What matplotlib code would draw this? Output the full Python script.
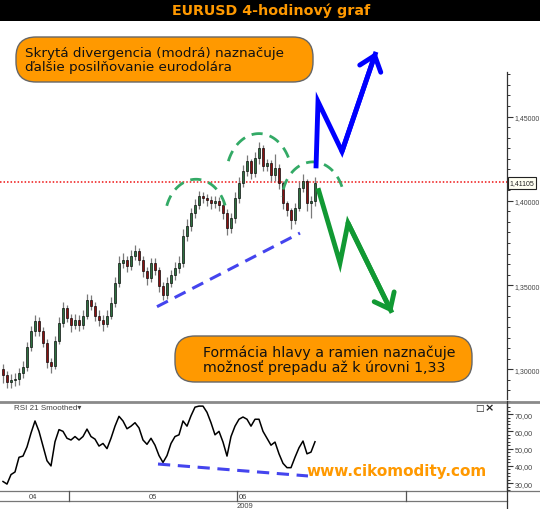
import matplotlib
matplotlib.use("Agg")
import matplotlib.pyplot as plt
from matplotlib.patches import Rectangle, FancyBboxPatch
import numpy as np

# ---------------- data ----------------
closes = [1.2964, 1.2923, 1.2935, 1.2941, 1.2976, 1.3012, 1.3130, 1.3230, 1.3289, 1.3230,
          1.3159, 1.3041, 1.3023, 1.3171, 1.3277, 1.3366, 1.3307, 1.3266, 1.3295, 1.3266,
          1.3319, 1.3413, 1.3378, 1.3319, 1.3295, 1.3271, 1.3319, 1.3395, 1.3514, 1.3632,
          1.3649, 1.3614, 1.3673, 1.3703, 1.3649, 1.3584, 1.3543, 1.3632, 1.3590, 1.3496,
          1.3443, 1.3514, 1.3561, 1.3602, 1.3632, 1.3791, 1.3850, 1.3927, 1.3974, 1.4027,
          1.4016, 1.4005, 1.3986, 1.3998, 1.3974, 1.3927, 1.3838, 1.3898, 1.4016, 1.4104,
          1.4175, 1.4234, 1.4163, 1.4252, 1.4311, 1.4205, 1.4222, 1.4151, 1.4193, 1.4104,
          1.3986, 1.3945, 1.3886, 1.3957, 1.4075, 1.4116, 1.3986, 1.3998, 1.4104]
first_open = 1.3000
highs = [1.303, 1.299, 1.297, 1.298, 1.301, 1.305, 1.316, 1.326, 1.332, 1.331,
         1.325, 1.318, 1.307, 1.320, 1.331, 1.340, 1.338, 1.333, 1.333, 1.332,
         1.335, 1.345, 1.344, 1.340, 1.335, 1.332, 1.335, 1.343, 1.355, 1.367,
         1.369, 1.367, 1.371, 1.374, 1.372, 1.367, 1.361, 1.366, 1.366, 1.361,
         1.352, 1.355, 1.359, 1.364, 1.367, 1.383, 1.389, 1.396, 1.401, 1.406,
         1.405, 1.404, 1.403, 1.403, 1.402, 1.400, 1.395, 1.393, 1.405, 1.414,
         1.421, 1.427, 1.425, 1.429, 1.435, 1.433, 1.425, 1.424, 1.428, 1.422,
         1.412, 1.400, 1.396, 1.399, 1.411, 1.416, 1.413, 1.403, 1.414]
lows = [1.292, 1.289, 1.289, 1.290, 1.291, 1.295, 1.299, 1.311, 1.320, 1.320,
        1.313, 1.301, 1.298, 1.300, 1.315, 1.325, 1.328, 1.322, 1.324, 1.323,
        1.324, 1.330, 1.335, 1.329, 1.326, 1.323, 1.325, 1.330, 1.337, 1.349,
        1.360, 1.358, 1.359, 1.365, 1.362, 1.355, 1.350, 1.352, 1.356, 1.346,
        1.341, 1.342, 1.349, 1.353, 1.357, 1.361, 1.376, 1.382, 1.390, 1.395,
        1.399, 1.397, 1.395, 1.396, 1.394, 1.389, 1.380, 1.381, 1.387, 1.399,
        1.408, 1.415, 1.413, 1.414, 1.422, 1.418, 1.418, 1.412, 1.412, 1.407,
        1.395, 1.391, 1.383, 1.386, 1.394, 1.405, 1.394, 1.390, 1.397]
rsi = [31, 29.5, 35, 36.5, 45, 45.7, 51, 59, 66, 60,
       51.5, 43, 40, 54, 61, 60, 56, 55, 57, 55,
       57, 61.3, 57, 55.5, 51.5, 53, 50, 56, 63, 68.7,
       66, 61.5, 63, 65, 62, 55, 52.5, 56, 52, 46,
       42, 46, 53, 57, 58, 66, 63, 69, 74, 74.6,
       74.6, 71, 65, 58, 60, 53.8, 45.7, 57, 63, 67,
       68.3, 67, 63, 67, 67, 60, 56, 52, 53.8, 47,
       41.5, 39, 39, 45, 50.5, 54.4, 47, 48, 54]
last_price = 1.41105
last_price_label = "1,41105"
price_ticks = [1.30, 1.35, 1.40, 1.45]
price_labels = ["1,30000", "1,35000", "1,40000", "1,45000"]
rsi_ticks = [30, 40, 50, 60, 70]
rsi_labels = ["30,00", "40,00", "50,00", "60,00", "70,00"]
month_labels = ["04", "05", "06"]
year_label = "2009"

# annotation geometry (candle index, price)
blue_path_x = [78.25, 78.75, 84.75, 93.25]
blue_path_y = [1.4193, 1.4589, 1.4293, 1.4884]
green_path_x = [78.75, 84.25, 86.25, 97.25]
green_path_y = [1.4075, 1.3632, 1.3868, 1.3336]
trend_x = [38.5, 74.25]
trend_y = [1.3372, 1.3809]
rsi_trend_x = [38.75, 76.25]
rsi_trend_y = [41.1, 34.2]
# arcs: centre idx, centre price, half width idx, half height price, start deg, end deg
arcs = [(48.25, 1.3892, 7.75, 0.0236, 20, 171),
        (64.0, 1.4139, 8.25, 0.0260, 27, 165),
        (77.5, 1.3995, 7.8, 0.0236, 22, 173)]

SMALL = "Liberation Sans"

# ---------------- layout ----------------
W, H = 540, 510
fig = plt.figure(figsize=(W / 100, H / 100), dpi=100)
fig.patch.set_facecolor("white")


def rect(x0, y0, x1, y1):
    return [x0 / W, 1 - y1 / H, (x1 - x0) / W, (y1 - y0) / H]


ax = fig.add_axes(rect(0, 22, 507, 402))
rax = fig.add_axes(rect(0, 404, 507, 492))
ov = fig.add_axes([0, 0, 1, 1], zorder=10)
ov.set_xlim(0, W)
ov.set_ylim(H, 0)
ov.axis("off")
ov.patch.set_alpha(0)

n = len(closes)
idx = np.arange(n)
opens = [first_open] + closes[:-1]
XL = (-0.75, 126.0)

# ---- main price panel ----
for i in range(n):
    o, c = opens[i], closes[i]
    ax.vlines(i, lows[i], highs[i], color="#7a7a7a", lw=0.9, zorder=2)
    col = "#2e7040" if c >= o else "#8b1010"
    b = min(o, c)
    h = max(abs(c - o), 0.0006)
    ax.add_patch(Rectangle((i - 0.35, b), 0.7, h, facecolor=col,
                           edgecolor="black", lw=0.45, zorder=3))

ax.axhline(last_price, color="#ee1111", lw=1.1, ls=(0, (1, 1.3)), zorder=1)

ax.plot(trend_x, trend_y, color="#4444ee", lw=2.2, ls=(0, (4, 2.5)), zorder=4)
for cx, cy, rx, ry, t1, t2 in arcs:
    t = np.radians(np.linspace(t1, t2, 80))
    ax.plot(cx + rx * np.cos(t), cy + ry * np.sin(t), color="#33aa66",
            lw=2.0, ls=(0, (4, 2.6)), zorder=4)

for px, py, col in ((blue_path_x, blue_path_y, "#0000ff"),
                    (green_path_x, green_path_y, "#119933")):
    ax.plot(px, py, color=col, lw=3.5, solid_joinstyle="miter",
            solid_capstyle="butt", zorder=5)
    ax.annotate("", xy=(px[-1], py[-1]), xytext=(px[-2], py[-2]),
                arrowprops=dict(arrowstyle="->,head_length=0.5,head_width=0.4",
                                lw=3.5, color=col, shrinkA=0, shrinkB=0,
                                mutation_scale=20), zorder=6)

ax.set_xlim(*XL)
ax.set_ylim(1.2823, 1.5067)
ax.yaxis.tick_right()
ax.set_yticks(price_ticks)
ax.set_yticklabels(price_labels, fontfamily=SMALL)
ax.set_yticks(np.arange(1.28125, 1.48, 0.00625), minor=True)
ax.set_xticks([])
ax.tick_params(axis="y", which="major", length=4, width=0.8, color="#333333",
               labelsize=5, labelcolor="#444444", pad=1.5)
ax.tick_params(axis="y", which="minor", length=2, width=0.7, color="#333333")
for s in ("top", "left", "bottom"):
    ax.spines[s].set_visible(False)
ax.spines["right"].set_bounds(1.2823, 1.4766)
ax.spines["right"].set_color("#333333")
ax.spines["right"].set_linewidth(0.9)

# ---- RSI panel ----
rax.plot(idx, rsi, color="black", lw=1.1, zorder=3)
rax.plot(rsi_trend_x, rsi_trend_y, color="#4444ee", lw=2.2, ls=(0, (4, 2.5)), zorder=4)
rax.set_xlim(*XL)
rax.set_ylim(25.5, 76.4)
rax.yaxis.tick_right()
rax.set_yticks(rsi_ticks)
rax.set_yticklabels(rsi_labels, fontfamily=SMALL)
rax.set_yticks(np.arange(26, 76, 2), minor=True)
rax.set_xticks([])
rax.tick_params(axis="y", which="major", length=4, width=0.8, color="#333333",
                labelsize=5.2, labelcolor="#444444", pad=1.5)
rax.tick_params(axis="y", which="minor", length=2, width=0.7, color="#333333")
for s in ("top", "left", "bottom"):
    rax.spines[s].set_visible(False)
rax.spines["right"].set_color("#333333")
rax.spines["right"].set_linewidth(0.9)

# ---- overlay: frame, boxes, texts ----
ov.add_patch(Rectangle((0, 0), W, 21.5, facecolor="black", edgecolor="none"))
ov.text(271, 11, "EURUSD 4-hodinový graf", color="#ff9900", fontsize=10.3,
        fontweight="bold", ha="center", va="center")

ov.plot([0, W], [403, 403], color="#8a8a8a", lw=2)
ov.plot([0, W], [492, 492], color="#777777", lw=0.9)
ov.plot([0, 507], [502, 502], color="#777777", lw=0.9)
ov.plot([507, 507], [402, 510], color="#333333", lw=0.9)
for xv in (69, 237, 406):
    ov.plot([xv, xv], [492, 502], color="#555555", lw=0.9)
for lab, xv in zip(month_labels, (33, 153, 243)):
    ov.text(xv, 497.5, lab, fontsize=5.5, color="#444444", ha="center",
            va="center", fontfamily=SMALL)
ov.text(245, 507, year_label, fontsize=5.5, color="#444444", ha="center",
        va="center", fontfamily=SMALL)

ov.text(14, 408.5, "RSI 21 Smoothed\u25BE", fontsize=5.8, color="#444444",
        ha="left", va="center", fontfamily=[SMALL, "DejaVu Sans"])
ov.text(479, 408.5, "\u25A1", fontsize=6.5, color="#222222", ha="center", va="center")
ov.text(489, 408.5, "\u00D7", fontsize=8, color="#222222", ha="center", va="center",
        fontweight="bold")

ov.add_patch(Rectangle((508, 178), 28, 11.5, facecolor="#fffff2",
                       edgecolor="#222222", lw=0.8))
ov.text(522, 184, last_price_label, fontsize=5, color="#222222",
        ha="center", va="center", fontfamily=SMALL)

ov.add_patch(FancyBboxPatch((16, 38), 297, 45,
                            boxstyle="round,pad=0,rounding_size=20",
                            facecolor="#ff9900", edgecolor="#666666", lw=1))
ov.text(25, 53, "Skrytá divergencia (modrá) naznačuje", fontsize=9.7,
        color="#111111", ha="left", va="center")
ov.text(25, 67.5, "ďalšie posilňovanie eurodolára", fontsize=9.7,
        color="#111111", ha="left", va="center")

ov.add_patch(FancyBboxPatch((175, 337), 297, 46,
                            boxstyle="round,pad=0,rounding_size=20",
                            facecolor="#ff9900", edgecolor="#666666", lw=1))
ov.text(203, 353, "Formácia hlavy a ramien naznačuje", fontsize=10.2,
        color="#111111", ha="left", va="center")
ov.text(203, 367.5, "možnosť prepadu až k úrovni 1,33", fontsize=10.2,
        color="#111111", ha="left", va="center")

ov.text(487, 472, "www.cikomodity.com", fontsize=11, fontweight="bold",
        color="#ff9900", ha="right", va="center")

fig.savefig("out.png", dpi=100, facecolor="white")
